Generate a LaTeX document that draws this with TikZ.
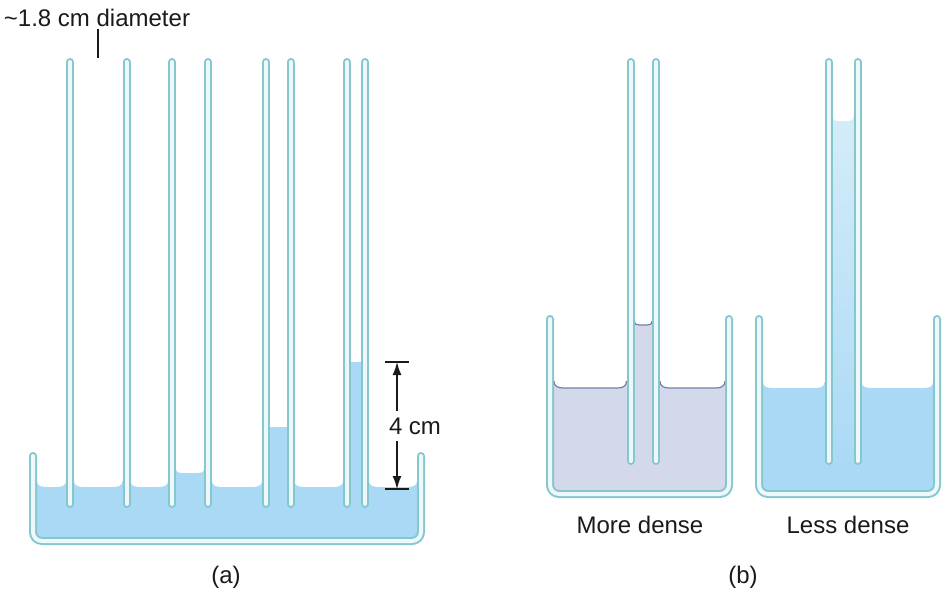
\documentclass[tikz,border=0pt]{standalone}
\usepackage{fontspec}
\setmainfont{Liberation Sans}
\usetikzlibrary{arrows.meta}
\definecolor{wallc}{HTML}{84C7CD}
\definecolor{wallin}{HTML}{EEF8FB}
\definecolor{wat}{HTML}{AAD9F5}
\definecolor{watl}{HTML}{D4ECF9}
\definecolor{dens}{HTML}{D3D9EA}
\definecolor{surf}{HTML}{7282A8}
\definecolor{ink}{HTML}{1A1A1A}
% meniscus bump left of wall centre #1, level #2, width #3, height #4, colour #5
\newcommand\mymenl[5]{\fill[#5] ({#1-4-#3},#2) .. controls ({#1-4-0.4*#3},#2) and ({#1-4},{#2-0.2*#4}) .. ({#1-4},{#2-#4}) -- ({#1},{#2-#4}) -- ({#1},#2) -- cycle;}
\newcommand\mymenr[5]{\fill[#5] ({#1+4+#3},#2) .. controls ({#1+4+0.4*#3},#2) and ({#1+4},{#2-0.2*#4}) .. ({#1+4},{#2-#4}) -- ({#1},{#2-#4}) -- ({#1},#2) -- cycle;}
\begin{document}
\begin{tikzpicture}[x=1pt,y=-1pt,
  wall/.style={draw=wallc, double=wallin, line width=2pt, double distance=4pt, line cap=round, line join=round, rounded corners=9pt},
  lbl/.style={font=\fontsize{24}{28}\selectfont, text=ink, inner sep=0pt},
  dim/.style={draw=ink, line width=1.5pt},
  surfl/.style={draw=surf, line width=1.2pt}]
\useasboundingbox (0,0) rectangle (944,592);

% ---------- (a) water ----------
\fill[wat] (33,487) rectangle (421,541);
\mymenr{33}{487}{10}{6}{wat}
\mymenl{70}{487}{10}{6}{wat}
\mymenr{70}{487}{10}{6}{wat}
\mymenl{126.5}{487}{10}{6}{wat}
\mymenr{126.5}{487}{10}{6}{wat}
\mymenl{172}{487}{10}{6}{wat}
\mymenr{208}{487}{10}{6}{wat}
\mymenl{266}{487}{10}{6}{wat}
\mymenr{290.5}{487}{10}{6}{wat}
\mymenl{347}{487}{10}{6}{wat}
\mymenr{365}{487}{10}{6}{wat}
\mymenl{421}{487}{10}{6}{wat}
\fill[wat] (172,473) rectangle (208,504);
\mymenr{172}{473}{7}{4}{wat}
\mymenl{208}{473}{7}{4}{wat}
\fill[wat] (266,427) rectangle (290.5,504);
\fill[wat] (347,362) rectangle (365,504);

% ---------- (b) left water (more dense) ----------
\fill[dens] (550,388) rectangle (729,494);
\fill[dens] (630.5,325) rectangle (656,470);
\mymenr{550}{388}{10}{7}{dens}
\mymenl{630.5}{388}{10}{7}{dens}
\mymenr{656}{388}{10}{7}{dens}
\mymenl{729}{388}{10}{7}{dens}
\mymenr{630.5}{325}{5}{4}{dens}
\mymenl{656}{325}{5}{4}{dens}
\draw[surfl] (554,381) .. controls (554,386.6) and (558,388) .. (564,388) -- (616.5,388) .. controls (622.5,388) and (626.5,386.6) .. (626.5,381);
\draw[surfl] (660,381) .. controls (660,386.6) and (664,388) .. (670,388) -- (715,388) .. controls (721,388) and (725,386.6) .. (725,381);
\draw[surfl] (634.5,321) .. controls (634.5,324.2) and (636.5,325) .. (639.5,325) -- (647,325) .. controls (650,325) and (652,324.2) .. (652,321);

% ---------- (b) right water (less dense) ----------
\fill[wat] (759,388) rectangle (937,494);
\mymenr{759}{388}{10}{6}{wat}
\mymenl{828.5}{388}{10}{6}{wat}
\mymenr{857.5}{388}{10}{6}{wat}
\mymenl{937}{388}{10}{6}{wat}
\shade[top color=watl, bottom color=wat] (828.5,121) rectangle (857.5,470);
\mymenr{828.5}{121}{6}{5}{watl}
\mymenl{857.5}{121}{6}{5}{watl}

% ---------- walls ----------
\draw[wall] (33,456) -- (33,541) -- (421,541) -- (421,456);
\foreach \x in {70,126.5,172,208,266,290.5,347,365}
  \draw[wall] (\x,62) -- (\x,504);
\draw[wall] (550,319) -- (550,494) -- (729,494) -- (729,319);
\draw[wall] (630.5,62) -- (630.5,461);
\draw[wall] (656,62) -- (656,461);
\draw[wall] (759,319) -- (759,494) -- (937,494) -- (937,319);
\draw[wall] (828.5,62) -- (828.5,461);
\draw[wall] (857.5,62) -- (857.5,461);

% ---------- labels ----------
\node[lbl] (diam) at (97,18) {\textasciitilde1.8 cm diameter};
\coordinate (dtick) at (98,58);
\coordinate (dtop) at (98,29);
\draw[dim] (dtop) -- (dtick);

\node[lbl] (fourcm) at (415,426) {4 cm};
\coordinate (ta) at (397,362);
\coordinate (ba) at (397,489);
\coordinate (g1) at (397,411);
\coordinate (g2) at (397,441);
\draw[dim] (385,362) -- (409,362);
\draw[dim] (385,489) -- (409,489);
\draw[dim, -{Latex[length=13pt,width=9pt]}] (g1) -- (ta);
\draw[dim, -{Latex[length=13pt,width=9pt]}] (g2) -- (ba);

\node[lbl] (more) at (640,525) {More dense};
\node[lbl] (less) at (848,525) {Less dense};
\node[lbl] (la) at (226,577) {(a)};
\node[lbl] (lb) at (743,577) {(b)};
\end{tikzpicture}
\end{document}
